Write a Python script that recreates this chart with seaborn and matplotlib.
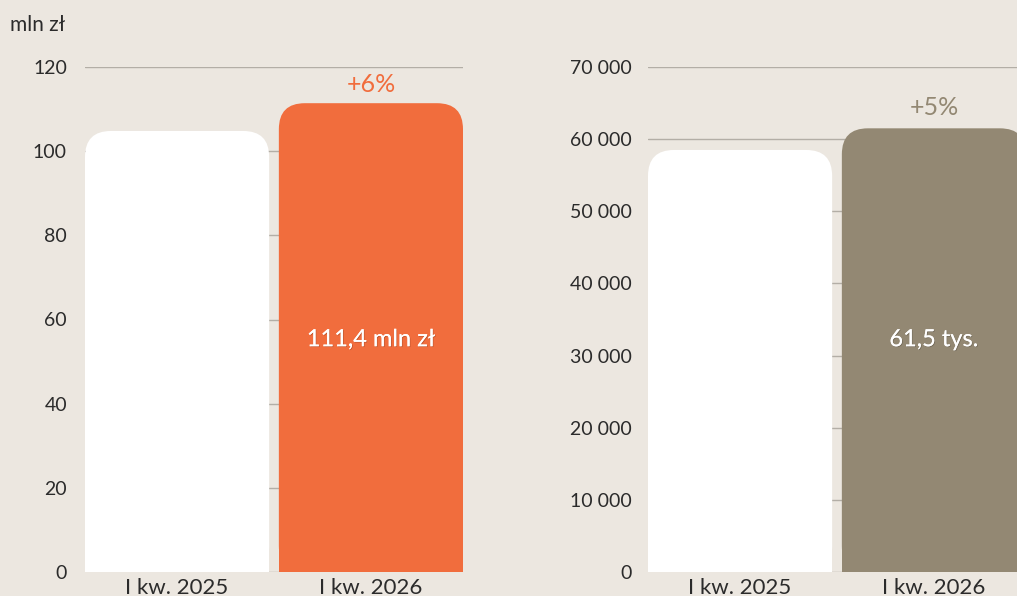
import numpy as np
import pandas as pd
import seaborn as sns
import matplotlib.pyplot as plt
import matplotlib.patheffects as pe
from matplotlib.patches import FancyBboxPatch, Rectangle
from matplotlib.ticker import FuncFormatter

# data
quarters = ['I kw. 2025', 'I kw. 2026']
revenue = [104.8, 111.4]          # mln zł
clients = [58500, 61500]
revenue_ticks = [0, 20, 40, 60, 80, 100, 120]
clients_ticks = [0, 10000, 20000, 30000, 40000, 50000, 60000, 70000]
revenue_label = '111,4 mln zł'
clients_label = '61,5 tys.'
revenue_change = '+6%'
clients_change = '+5%'

BG = '#ECE7E0'
ORANGE = '#F16D3D'
TAUPE = '#938873'
GRID = '#B3AEA6'
TEXT = '#2B2B2B'

sns.set_theme(style='white')
plt.rcParams['font.family'] = ['Lato', 'DejaVu Sans']

fig = plt.figure(figsize=(10.17, 5.96), dpi=100, facecolor=BG)
ax_l = fig.add_axes([85 / 1017, 24 / 596, 378 / 1017, 505 / 596])
ax_r = fig.add_axes([648 / 1017, 24 / 596, 378 / 1017, 505 / 596])


def rounded_bars(ax, radius_px=26):
    """Swap seaborn's square bars for bars with rounded top corners."""
    fig.canvas.draw()
    inv = ax.transData.inverted()
    p0 = inv.transform((0, 0))
    p1 = inv.transform((radius_px, radius_px))
    rx, ry = p1[0] - p0[0], p1[1] - p0[1]
    for bar in list(ax.patches):
        x, y = bar.get_x(), bar.get_y()
        w, h = bar.get_width(), bar.get_height()
        col = bar.get_facecolor()
        bar.set_visible(False)
        ax.add_patch(FancyBboxPatch((x, y), w, h,
                                    boxstyle=f'round,pad=0,rounding_size={rx}',
                                    mutation_aspect=ry / rx, fc=col, ec='none', zorder=3))
        ax.add_patch(Rectangle((x, y), w, h - 2 * ry, fc=col, ec='none', zorder=3))


def style_axis(ax, ticks, top, fmt, pad):
    ax.set_facecolor(BG)
    ax.set_xlim(-0.475, 1.475)
    ax.set_ylim(0, top)
    ax.set_yticks(ticks)
    ax.yaxis.set_major_formatter(FuncFormatter(fmt))
    ax.grid(axis='y', color=GRID, lw=1)
    ax.set_axisbelow(True)
    for s in ax.spines.values():
        s.set_visible(False)
    ax.tick_params(axis='y', length=0, pad=pad, labelsize=14, labelcolor=TEXT)
    ax.tick_params(axis='x', length=0, pad=4, labelsize=16, labelcolor=TEXT)
    ax.set_xlabel('')
    ax.set_ylabel('')


shadow = [pe.withSimplePatchShadow(offset=(0.6, -0.6), shadow_rgbFace='#000000', alpha=0.2), pe.Normal()]

# left panel: revenue
df_l = pd.DataFrame({'kw': quarters, 'val': revenue})
sns.barplot(data=df_l, x='kw', y='val', hue='kw', palette=['white', ORANGE],
            saturation=1, width=0.95, legend=False, ax=ax_l)
style_axis(ax_l, revenue_ticks, 120, lambda v, p: f'{v:.0f}', 13)
rounded_bars(ax_l)
ax_l.text(1, revenue[1] + 4.5, revenue_change, ha='center', va='center',
          fontsize=18, color=ORANGE)
ax_l.text(1, 0.46, revenue_label, transform=ax_l.get_xaxis_transform(), ha='center',
          va='center', fontsize=17, color='white', path_effects=shadow)
fig.text(10 / 1017, 1 - 25 / 596, 'mln zł', ha='left', va='center', fontsize=15, color=TEXT)

# right panel: clients
df_r = pd.DataFrame({'kw': quarters, 'val': clients})
sns.barplot(data=df_r, x='kw', y='val', hue='kw', palette=['white', TAUPE],
            saturation=1, width=0.95, legend=False, ax=ax_r)
style_axis(ax_r, clients_ticks, 70000, lambda v, p: f'{v:,.0f}'.replace(',', ' '), 11.5)
rounded_bars(ax_r)
ax_r.text(1, clients[1] + 2900, clients_change, ha='center', va='center',
          fontsize=18, color=TAUPE)
ax_r.text(1, 0.46, clients_label, transform=ax_r.get_xaxis_transform(), ha='center',
          va='center', fontsize=17, color='white', path_effects=shadow)

fig.savefig('out.png', dpi=100, facecolor=BG)
